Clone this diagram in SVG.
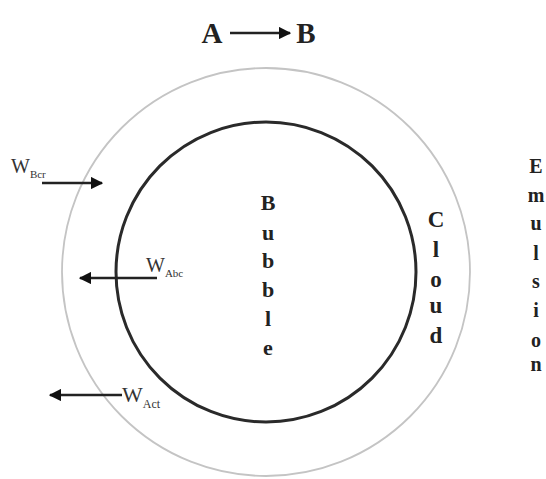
<svg xmlns="http://www.w3.org/2000/svg" width="546" height="479" viewBox="0 0 546 479">
<style>
.t{font-family:"Liberation Serif","Times New Roman",serif;font-weight:bold;fill:#222;text-anchor:middle}
.w{font-family:"Liberation Serif","Times New Roman",serif;fill:#333}
.ar{stroke:#222;stroke-width:2.5;fill:none}
</style>
<defs>
<marker id="ah" viewBox="0 0 10 10" refX="9" refY="5" markerWidth="5" markerHeight="5" orient="auto" markerUnits="strokeWidth">
<path d="M0,0 L10,5 L0,10 Z" fill="#111"/>
</marker>
</defs>
<rect width="546" height="479" fill="#fff"/>
<g id="emulsion">
<circle cx="266" cy="272" r="204" fill="none" stroke="#c4c4c4" stroke-width="1.8"/>
<text class="t" style="font-size:20px">
<tspan x="536" y="173">E</tspan><tspan x="536" y="202">m</tspan><tspan x="536" y="230">u</tspan><tspan x="536" y="260">l</tspan><tspan x="536" y="288">s</tspan><tspan x="536" y="317">i</tspan><tspan x="536" y="347">o</tspan><tspan x="536" y="371">n</tspan>
</text>
</g>
<g id="bubble">
<circle cx="266" cy="272" r="150" fill="none" stroke="#2a2a2a" stroke-width="3"/>
<text class="t" style="font-size:22px">
<tspan x="268" y="210">B</tspan><tspan x="268" y="240">u</tspan><tspan x="268" y="268">b</tspan><tspan x="268" y="297">b</tspan><tspan x="268" y="326">l</tspan><tspan x="268" y="355">e</tspan>
</text>
</g>
<g id="cloud">
<text class="t" style="font-size:23px">
<tspan x="436" y="227">C</tspan><tspan x="436" y="257">l</tspan><tspan x="436" y="287">o</tspan><tspan x="436" y="313">u</tspan><tspan x="436" y="343">d</tspan>
</text>
</g>
<g id="title">
<text class="t" x="212" y="43" style="font-size:29px">A</text>
<text class="t" x="306" y="43" style="font-size:29px">B</text>
</g>
<g id="connectors">
<line class="ar" x1="230" y1="33" x2="290" y2="33" marker-end="url(#ah)"/>
<line class="ar" x1="42" y1="183" x2="102" y2="183" marker-end="url(#ah)"/>
<line class="ar" x1="157" y1="278" x2="80" y2="278" marker-end="url(#ah)"/>
<line class="ar" x1="122" y1="395" x2="50" y2="395" marker-end="url(#ah)"/>
</g>
<g id="labels">
<text class="w" x="11" y="173" style="font-size:20px">W<tspan dy="5" style="font-size:11px">Bcr</tspan></text>
<text class="w" x="146" y="272" style="font-size:20px">W<tspan dy="5" style="font-size:11px">Abc</tspan></text>
<text class="w" x="122" y="402" style="font-size:22px">W<tspan dy="6" style="font-size:12px">Act</tspan></text>
</g>
</svg>
